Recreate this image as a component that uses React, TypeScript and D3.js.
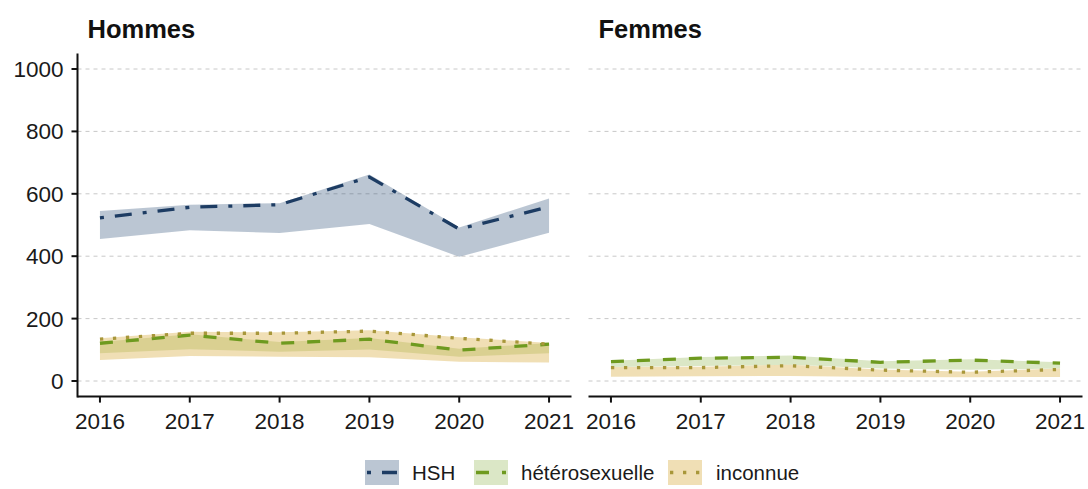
import React from "react";
import * as d3 from "d3";

const years = [2016, 2017, 2018, 2019, 2020, 2021];
const yTicks = [0, 200, 400, 600, 800, 1000];

// Hommes
const hommesHsh = [523, 557, 565, 654, 487, 558];
const hommesHshLow = [455, 483, 474, 503, 398, 475];
const hommesHshHigh = [545, 565, 570, 662, 492, 585];
const hommesHet = [121, 147, 121, 134, 99, 118];
const hommesHetLow = [89, 102, 94, 101, 78, 89];
const hommesHetHigh = [125, 150, 125, 138, 103, 122];
const hommesInc = [134, 153, 153, 160, 137, 118];
const hommesIncLow = [67, 80, 78, 76, 62, 59];
const hommesIncHigh = [137, 158, 156, 163, 140, 122];

// Femmes
const femmesHet = [62, 73, 76, 60, 67, 57];
const femmesHetLow = [45, 48, 52, 40, 36, 40];
const femmesHetHigh = [65, 77, 82, 63, 70, 60];
const femmesInc = [43, 43, 49, 35, 28, 37];
const femmesIncLow = [14, 15, 16, 13, 12, 13];
const femmesIncHigh = [45, 46, 52, 37, 30, 40];

const groups = ["HSH", "hétérosexuelle", "inconnue"];

type Series = { key: string; mid: number[]; low: number[]; high: number[] };
const panels: { title: string; series: Series[] }[] = [
  {
    title: "Hommes",
    series: [
      { key: "HSH", mid: hommesHsh, low: hommesHshLow, high: hommesHshHigh },
      { key: "hétérosexuelle", mid: hommesHet, low: hommesHetLow, high: hommesHetHigh },
      { key: "inconnue", mid: hommesInc, low: hommesIncLow, high: hommesIncHigh },
    ],
  },
  {
    title: "Femmes",
    series: [
      { key: "hétérosexuelle", mid: femmesHet, low: femmesHetLow, high: femmesHetHigh },
      { key: "inconnue", mid: femmesInc, low: femmesIncLow, high: femmesIncHigh },
    ],
  },
];

const styles: Record<string, { line: string; fill: string; fillOpacity: number; dash: string }> = {
  HSH: { line: "#1d3c63", fill: "#1f416e", fillOpacity: 0.3, dash: "4,11,17,11" },
  "hétérosexuelle": { line: "#6e9a1f", fill: "#7aa52b", fillOpacity: 0.27, dash: "13,13" },
  inconnue: { line: "#a8973a", fill: "#d7aa3c", fillOpacity: 0.38, dash: "3.3,9.7" },
};

const FONT = "'Liberation Sans', Arial, sans-serif";
const panelX = [
  [77.5, 571.5],
  [588.5, 1082.5],
];
const yTop = 53.4;
const yBottom = 396.6;

export default function App() {
  const y = d3.scaleLinear().domain([-50, 1050]).range([yBottom, yTop]);
  return (
    <svg
      width={1088}
      height={489}
      style={{ position: "absolute", left: 0, top: 0, background: "#fff" }}
      fontFamily={FONT}
    >
      {panels.map((p, pi) => {
        const [x0, x1] = panelX[pi];
        const x = d3.scaleLinear().domain([2015.75, 2021.25]).range([x0, x1]);
        const line = d3
          .line<number>()
          .x((_, i) => x(years[i]))
          .y((d) => y(d));
        return (
          <g key={p.title}>
            <text x={x0 + 10} y={38} fontSize={25.5} fontWeight="bold" fill="#111">
              {p.title}
            </text>
            {yTicks.map((t) => (
              <line
                key={t}
                x1={x0}
                x2={x1}
                y1={y(t)}
                y2={y(t)}
                stroke="#c8c8c8"
                strokeWidth={1}
                strokeDasharray="4,4"
              />
            ))}
            {p.series.map((s) => {
              const st = styles[s.key];
              const a = d3
                .area<number>()
                .x((_, i) => x(years[i]))
                .y0((_, i) => y(s.low[i]))
                .y1((_, i) => y(s.high[i]));
              return (
                <path
                  key={"a" + s.key}
                  d={a(s.mid) || ""}
                  fill={st.fill}
                  fillOpacity={st.fillOpacity}
                  stroke="none"
                />
              );
            })}
            {p.series.map((s) => {
              const st = styles[s.key];
              return (
                <path
                  key={"l" + s.key}
                  d={line(s.mid) || ""}
                  fill="none"
                  stroke={st.line}
                  strokeWidth={3.3}
                  strokeDasharray={st.dash}
                />
              );
            })}
            <line x1={x0} x2={x1} y1={yBottom} y2={yBottom} stroke="#111" strokeWidth={2} />
            {years.map((yr) => (
              <g key={yr}>
                <line x1={x(yr)} x2={x(yr)} y1={yBottom} y2={yBottom + 6} stroke="#111" strokeWidth={2} />
                <text x={x(yr)} y={428.5} fontSize={22.5} textAnchor="middle" fill="#1a1a1a">
                  {yr}
                </text>
              </g>
            ))}
            {pi === 0 && (
              <g>
                <line x1={x0} x2={x0} y1={yTop} y2={yBottom + 1} stroke="#111" strokeWidth={2} />
                {yTicks.map((t) => (
                  <g key={t}>
                    <line x1={x0 - 6} x2={x0} y1={y(t)} y2={y(t)} stroke="#111" strokeWidth={2} />
                    <text x={x0 - 14} y={y(t) + 8} fontSize={22.5} textAnchor="end" fill="#1a1a1a">
                      {t}
                    </text>
                  </g>
                ))}
              </g>
            )}
          </g>
        );
      })}
      {/* Legend */}
      {(() => {
        const keyX = [365, 474, 668];
        const textX = [412, 521, 716];
        return groups.map((g, i) => {
          const st = styles[g];
          return (
            <g key={g}>
              <rect x={keyX[i]} y={460} width={34} height={25} fill={st.fill} fillOpacity={st.fillOpacity} />
              <line
                x1={keyX[i] + 2}
                x2={keyX[i] + 32}
                y1={472.5}
                y2={472.5}
                stroke={st.line}
                strokeWidth={3.3}
                strokeDasharray={st.dash}
              />
              <text x={textX[i]} y={480} fontSize={20.5} fill="#1a1a1a">
                {g}
              </text>
            </g>
          );
        });
      })()}
    </svg>
  );
}
